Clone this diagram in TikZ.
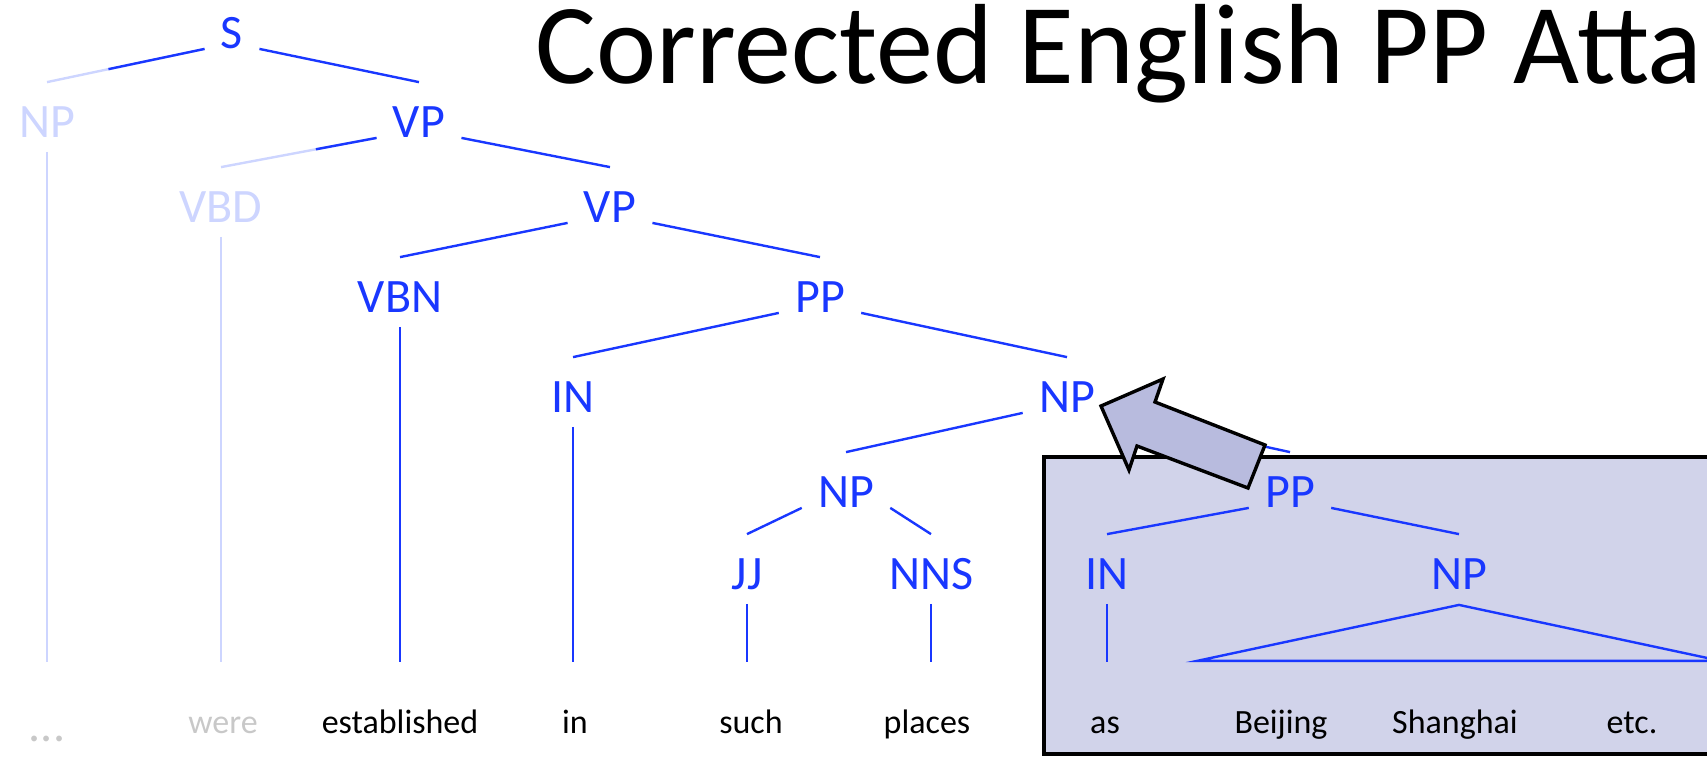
\documentclass[tikz,border=0pt]{standalone}
\usepackage{fontspec}
\setmainfont{Carlito}
\usepackage{tikz}
\usetikzlibrary{calc}
\definecolor{treeblue}{RGB}{25,55,255}
\definecolor{treefaded}{RGB}{205,213,255}
\definecolor{wordgray}{RGB}{200,200,200}
\definecolor{boxfill}{RGB}{209,211,234}
\definecolor{arrowfill}{RGB}{184,187,222}

\begin{document}
\begin{tikzpicture}[x=0.5pt,y=-0.5pt,
    cat/.style={inner xsep=8pt,inner ysep=0pt,text height=15.5pt,text depth=0pt,
      font=\fontsize{24}{24}\selectfont,text=treeblue},
    catfaded/.style={cat,text=treefaded},
    word/.style={anchor=base,inner sep=0pt,text height=12pt,text depth=4pt,
      font=\fontsize{17}{17}\selectfont},
    branch/.style={treeblue,line width=1.2pt},
    branchfaded/.style={treefaded,line width=1.2pt}]
    \useasboundingbox (0,0) rectangle (1707,757);
    \clip (0,0) rectangle (1707,757);
    % shaded box behind the moved PP
    \draw[line width=2pt,fill=boxfill] (1044,457) rectangle (1740,754);
    \node[anchor=base west,inner sep=0pt,font=\fontsize{57}{57}\selectfont] (title) at (535,83) {Corrected English PP Atta};
    % categories
    \node[cat] (S) at (232,33) {S};
    \node[catfaded] (NPa) at (47,122) {NP};
    \node[cat] (VPa) at (419,122) {VP};
    \node[catfaded] (VBD) at (221,207) {VBD};
    \node[cat] (VPb) at (610,207) {VP};
    \node[cat] (VBN) at (400,297) {VBN};
    \node[cat] (PPa) at (820,297) {PP};
    \node[cat] (INa) at (573,397) {IN};
    \node[cat] (NPb) at (1067,397) {NP};
    \node[cat] (NPc) at (846,492) {NP};
    \node[cat] (PPb) at (1290,492) {PP};
    \node[cat] (JJ) at (747,574) {JJ};
    \node[cat] (NNS) at (931,574) {NNS};
    \node[cat] (INb) at (1107,574) {IN};
    \node[cat] (NPd) at (1459,574) {NP};
    % words
    \node[word,text=wordgray,font=\fontsize{24}{24}\selectfont] (w0) at (47,741) {...};
    \node[word,text=wordgray] (w1) at (223,733) {were};
    \node[word] (w2) at (400,733) {established};
    \node[word] (w3) at (575,733) {in};
    \node[word] (w4) at (751,733) {such};
    \node[word] (w5) at (927,733) {places};
    \node[word] (w6) at (1105,733) {as};
    \node[word] (w7) at (1281,733) {Beijing};
    \node[word] (w8) at (1455,733) {Shanghai};
    \node[word] (w9) at (1632,733) {etc.};
    % branches
    \draw[branchfaded] (S.south west) -- ([yshift=12pt]NPa.north);
    \draw[branch] (S.south west) -- ($(S.south west)!0.61!([yshift=12pt]NPa.north)$);
    \draw[branch] (S.south east) -- ([yshift=12pt]VPa.north);
    \draw[branchfaded] (VPa.south west) -- ([yshift=12pt]VBD.north);
    \draw[branch] (VPa.south west) -- ($(VPa.south west)!0.39!([yshift=12pt]VBD.north)$);
    \draw[branch] (VPa.south east) -- ([yshift=12pt]VPb.north);
    \draw[branch] (VPb.south west) -- ([yshift=12pt]VBN.north);
    \draw[branch] (VPb.south east) -- ([yshift=12pt]PPa.north);
    \draw[branch] (PPa.south west) -- ([yshift=12pt]INa.north);
    \draw[branch] (PPa.south east) -- ([yshift=12pt]NPb.north);
    \draw[branch] (NPb.south west) -- ([yshift=12pt]NPc.north);
    \draw[branch] (NPb.south east) -- ([yshift=12pt]PPb.north);
    \draw[branch] (NPc.south west) -- ([yshift=12pt]JJ.north);
    \draw[branch] (NPc.south east) -- ([yshift=12pt]NNS.north);
    \draw[branch] (PPb.south west) -- ([yshift=12pt]INb.north);
    \draw[branch] (PPb.south east) -- ([yshift=12pt]NPd.north);
    % preterminals to words
    \draw[branchfaded] ([yshift=-7pt]NPa.south) -- ($(NPa.south |- w1.north)+(0,-47)$);
    \draw[branchfaded] ([yshift=-7pt]VBD.south) -- ($(VBD.south |- w1.north)+(0,-47)$);
    \draw[branch] ([yshift=-7pt]VBN.south) -- ($(VBN.south |- w2.north)+(0,-47)$);
    \draw[branch] ([yshift=-7pt]INa.south) -- ($(INa.south |- w3.north)+(0,-47)$);
    \draw[branch] ([yshift=-7pt]JJ.south) -- ($(JJ.south |- w4.north)+(0,-47)$);
    \draw[branch] ([yshift=-7pt]NNS.south) -- ($(NNS.south |- w5.north)+(0,-47)$);
    \draw[branch] ([yshift=-7pt]INb.south) -- ($(INb.south |- w6.north)+(0,-47)$);
    \draw[branch] ($(NPd.south)+(0,15)$) -- ($(NPd.south)+(-262,71)$) -- ($(NPd.south)+(262,71)$) -- cycle;
    % block arrow: PP reattached to NP
    \draw[line width=1.7pt,fill=arrowfill] (1101,406) -- (1129,470) -- (1137,446) -- (1248,488)
      -- (1265,445) -- (1155,402) -- (1163,379) -- cycle;
\end{tikzpicture}
\end{document}
